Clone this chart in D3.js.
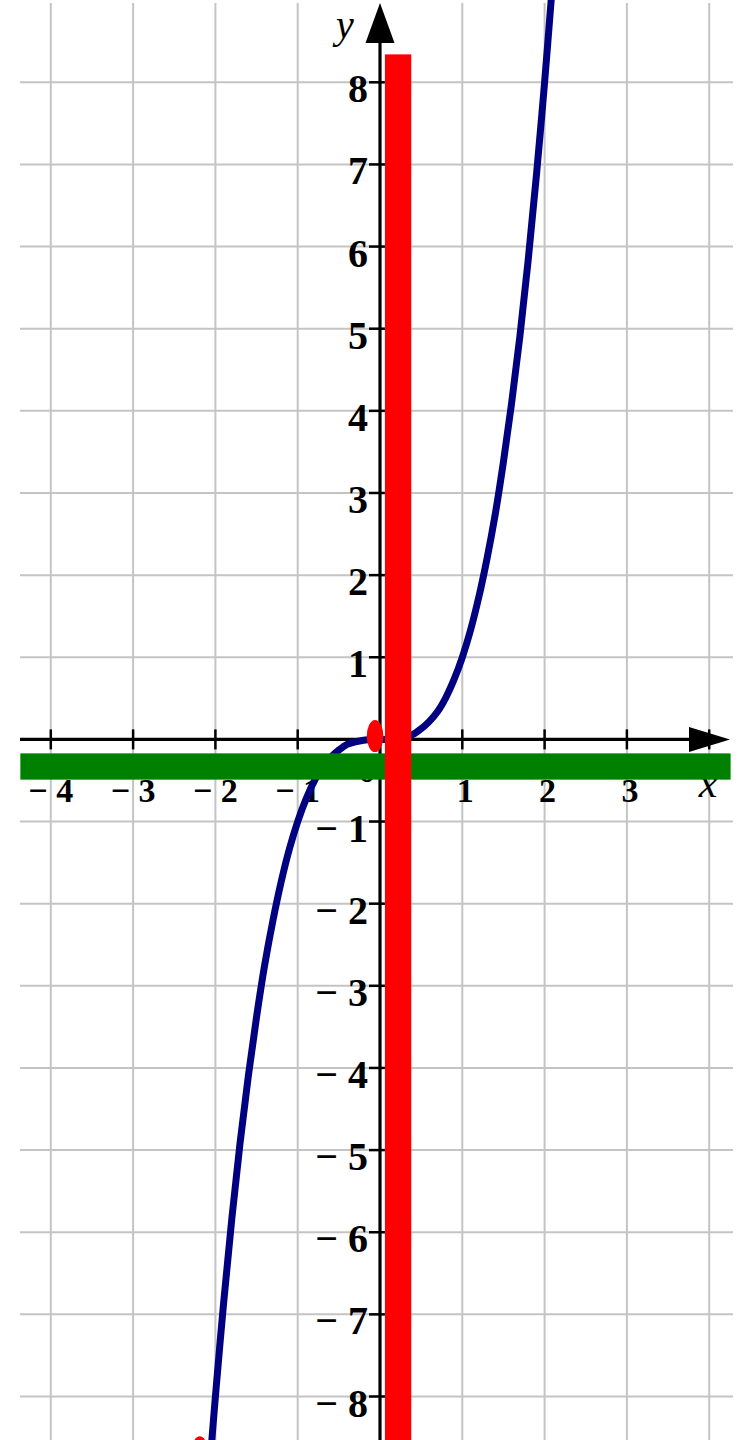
<!DOCTYPE html>
<html>
<head>
<meta charset="utf-8">
<script src="https://cdn.jsdelivr.net/npm/d3@7"></script>
<style>
  html, body { margin: 0; padding: 0; background: #fff; }
  svg { display: block; }
</style>
</head>
<body>
<svg id="chart" width="740" height="1440"></svg>
<script>
// ---- data ----
const xTicks = [-4, -3, -2, -1, 1, 2, 3, 4];
const yTicks = [-8, -7, -6, -5, -4, -3, -2, -1, 1, 2, 3, 4, 5, 6, 7, 8];
const xLabelTicks = [-4, -3, -2, -1, 1, 2, 3];
const xTickLabels = ["\u2212 4", "\u2212 3", "\u2212 2", "\u2212 1", "1", "2", "3"];
const yTickLabels = ["\u2212 8", "\u2212 7", "\u2212 6", "\u2212 5", "\u2212 4", "\u2212 3", "\u2212 2", "\u2212 1",
                     "1", "2", "3", "4", "5", "6", "7", "8"];
// curve points
const curveX = [-2.07, -2.0, -1.9, -1.8, -1.7, -1.6, -1.5, -1.4, -1.3, -1.2, -1.1, -1.0, -0.9, -0.8, -0.7,
                -0.6, -0.5, -0.4, -0.3, -0.2, -0.1, 0.0, 0.1, 0.2, 0.3, 0.4, 0.5, 0.6, 0.7, 0.8, 0.9,
                1.0, 1.1, 1.2, 1.3, 1.4, 1.5, 1.6, 1.7, 1.8, 1.9, 2.0, 2.09];
const curveY = [-8.87, -8.0, -6.86, -5.83, -4.91, -4.10, -3.38, -2.74, -2.20, -1.73, -1.33, -1.0, -0.73, -0.51, -0.34,
                -0.22, -0.13, -0.06, -0.03, -0.01, 0.0, 0.0, 0.0, 0.01, 0.03, 0.06, 0.13, 0.22, 0.34, 0.51, 0.73,
                1.0, 1.33, 1.73, 2.20, 2.74, 3.38, 4.10, 4.91, 5.83, 6.86, 8.0, 9.13];
// highlight marks
const redPoint = [{x: -0.06, y: 0.04}, {x: -2.19, y: -8.68}];
const redBar = {x0: 0.06, x1: 0.38, yTop: 8.34, yBottom: -8.6};
const greenBand = {x0: -4.37, x1: 4.26, yTop: -0.17, yBottom: -0.49};

// ---- scales ----
const x = d3.scaleLinear().domain([-4, 4]).range([50.8, 709.2]);
const y = d3.scaleLinear().domain([-8, 8]).range([1396.5, 82.3]);

const svg = d3.select("#chart");

// grid
const grid = svg.append("g").attr("stroke", "#c4c4c4").attr("stroke-width", 2);
grid.selectAll("line.v").data(xTicks).join("line")
  .attr("class", "v")
  .attr("x1", d => x(d)).attr("x2", d => x(d))
  .attr("y1", 3).attr("y2", 1440);
grid.selectAll("line.h").data(yTicks).join("line")
  .attr("class", "h")
  .attr("x1", 20).attr("x2", 733)
  .attr("y1", d => y(d)).attr("y2", d => y(d));

// axes
const x0 = x(0), y0 = y(0);
const axes = svg.append("g").attr("stroke", "#000").attr("stroke-width", 3.2);
axes.append("line").attr("x1", 20).attr("x2", 695).attr("y1", y0).attr("y2", y0);
axes.append("line").attr("x1", x0).attr("x2", x0).attr("y1", 40).attr("y2", 1440);
axes.selectAll("line.xt").data(xTicks).join("line")
  .attr("class", "xt")
  .attr("x1", d => x(d)).attr("x2", d => x(d))
  .attr("y1", y0 - 10).attr("y2", y0 + 10)
  .attr("stroke-width", 2.5);
axes.selectAll("line.yt").data(yTicks).join("line")
  .attr("class", "yt")
  .attr("x1", x0 - 11).attr("x2", x0 + 11)
  .attr("y1", d => y(d)).attr("y2", d => y(d))
  .attr("stroke-width", 2.5);
// arrow heads
svg.append("path")
  .attr("d", `M${x0},3 L${x0 + 14.5},43 L${x0 - 14.5},43 Z`)
  .attr("fill", "#000");
svg.append("path")
  .attr("d", `M730,${y0} L689,${y0 - 12.5} L689,${y0 + 12.5} Z`)
  .attr("fill", "#000");

// tick labels
const serif = "'Liberation Serif', 'DejaVu Serif', serif";
svg.append("g").selectAll("text").data(xLabelTicks).join("text")
  .attr("x", d => x(d) + (d > 0 ? 3 : 0))
  .attr("y", 802)
  .attr("text-anchor", "middle")
  .attr("font-family", serif).attr("font-weight", "bold").attr("font-size", 34)
  .text((d, i) => xTickLabels[i]);
svg.append("g").selectAll("text").data(yTicks).join("text")
  .attr("x", 368)
  .attr("y", d => y(d) + 20)
  .attr("text-anchor", "end")
  .attr("font-family", serif).attr("font-weight", "bold").attr("font-size", 40)
  .text((d, i) => yTickLabels[i]);
svg.append("text").attr("x", 367).attr("y", 782).attr("text-anchor", "middle")
  .attr("font-family", serif).attr("font-weight", "bold").attr("font-size", 34).text("0");
svg.append("text").attr("x", 345).attr("y", 38).attr("text-anchor", "middle")
  .attr("font-family", serif).attr("font-style", "italic").attr("font-size", 40).text("y");
svg.append("text").attr("x", 708).attr("y", 797).attr("text-anchor", "middle")
  .attr("font-family", serif).attr("font-style", "italic").attr("font-size", 42).text("x");

// curve
const pts = curveX.map((d, i) => [d, curveY[i]]);
svg.append("path")
  .datum(pts)
  .attr("fill", "none")
  .attr("stroke", "#000080")
  .attr("stroke-width", 7)
  .attr("stroke-linejoin", "round")
  .attr("d", d3.line().x(d => x(d[0])).y(d => y(d[1])).curve(d3.curveCatmullRom));

// green band
svg.append("rect")
  .attr("x", x(greenBand.x0)).attr("width", x(greenBand.x1) - x(greenBand.x0))
  .attr("y", y(greenBand.yTop)).attr("height", y(greenBand.yBottom) - y(greenBand.yTop))
  .attr("fill", "#008000");

// red bar
svg.append("rect")
  .attr("x", x(redBar.x0)).attr("width", x(redBar.x1) - x(redBar.x0))
  .attr("y", y(redBar.yTop)).attr("height", y(redBar.yBottom) - y(redBar.yTop))
  .attr("fill", "#ff0000");

// red points
svg.append("g").selectAll("ellipse").data(redPoint).join("ellipse")
  .attr("cx", d => x(d.x)).attr("cy", d => y(d.y))
  .attr("rx", 8.3).attr("ry", 16)
  .attr("fill", "#ff0000");
</script>
</body>
</html>
